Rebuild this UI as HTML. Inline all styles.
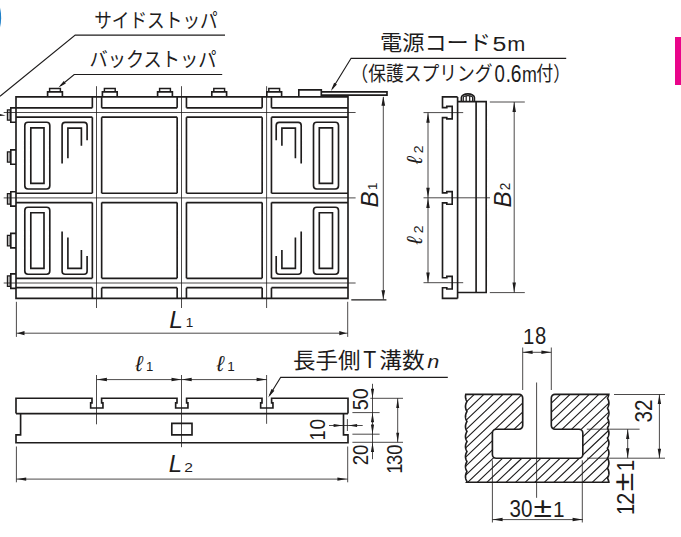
<!DOCTYPE html>
<html lang="ja">
<head>
<meta charset="utf-8">
<title>T溝付き電磁チャック 外形寸法図</title>
<style>
html,body{margin:0;padding:0;background:#fff;}
body{width:681px;height:537px;overflow:hidden;font-family:"Liberation Sans",sans-serif;}
svg{display:block;}
text{font-family:"Liberation Sans",sans-serif;fill:#1e1c1c;}
text.jp{font-family:"Liberation Sans","Noto Sans CJK JP",sans-serif;fill:#1e1c1c;}
text.sl{font-family:"Liberation Sans","DejaVu Sans",sans-serif;font-style:italic;fill:#1e1c1c;}
.k{fill:none;stroke:#1e1c1c;stroke-width:1.65;stroke-linejoin:miter;stroke-linecap:butt;}
.n{fill:none;stroke:#1e1c1c;stroke-width:0.8;}
.m{fill:none;stroke:#1e1c1c;stroke-width:1.15;}
.k2{fill:none;stroke:#1e1c1c;stroke-width:1.2;}
.h{fill:none;stroke:#1e1c1c;stroke-width:1.1;}
.a{fill:#1e1c1c;stroke:none;}
</style>
</head>
<body>
<svg width="681" height="537" viewBox="0 0 681 537">
<defs><clipPath id="sec"><path d="M465.79 394.3H519.1A3.6 3.6 0 0 1 522.7 397.9V425.6A3.6 3.6 0 0 1 519.1 429.2H496.2A3.8 3.8 0 0 0 492.4 433V454.4A3.8 3.8 0 0 0 496.2 458.2H579A3.8 3.8 0 0 0 582.8 454.4V433A3.8 3.8 0 0 0 579 429.2H554.9A3.6 3.6 0 0 1 551.3 425.6V397.9A3.6 3.6 0 0 1 554.9 394.3H608.81L608.73 394.8L608.61 395.3L608.46 395.81L608.28 396.31L608.07 396.81L607.83 397.31L607.57 397.82L607.53 398.32L607.8 398.82L608.04 399.32L608.26 399.83L608.44 400.33L608.59 400.83L608.71 401.33L608.8 401.83L608.87 402.34L608.9 402.84L608.9 403.34L608.87 403.84L608.81 404.35L608.72 404.85L608.6 405.35L608.45 405.85L608.26 406.35L608.05 406.86L607.81 407.36L607.54 407.86L607.55 408.36L607.82 408.87L608.06 409.37L608.27 409.87L608.45 410.37L608.6 410.88L608.72 411.38L608.81 411.88L608.87 412.38L608.9 412.88L608.9 413.39L608.86 413.89L608.8 414.39L608.71 414.89L608.58 415.4L608.43 415.9L608.25 416.4L608.03 416.9L607.79 417.41L607.51 417.91L607.58 418.41L607.85 418.91L608.08 419.41L608.29 419.92L608.47 420.42L608.62 420.92L608.73 421.42L608.82 421.93L608.87 422.43L608.9 422.93L608.89 423.43L608.86 423.93L608.79 424.44L608.7 424.94L608.57 425.44L608.41 425.94L608.23 426.45L608.01 426.95L607.76 427.45L607.49 427.95L607.61 428.46L607.87 428.96L608.11 429.46L608.31 429.96L608.48 430.46L608.63 430.97L608.74 431.47L608.82 431.97L608.88 432.47L608.9 432.98L608.89 433.48L608.85 433.98L608.79 434.48L608.69 434.99L608.56 435.49L608.4 435.99L608.21 436.49L607.99 436.99L607.74 437.5L607.46 438L607.63 438.5L607.89 439L608.12 439.51L608.33 440.01L608.5 440.51L608.64 441.01L608.75 441.51L608.83 442.02L608.88 442.52L608.9 443.02L608.89 443.52L608.85 444.03L608.78 444.53L608.68 445.03L608.54 445.53L608.38 446.04L608.19 446.54L607.97 447.04L607.72 447.54L607.43 448.04L607.66 448.55L607.92 449.05L608.14 449.55L608.34 450.05L608.51 450.56L608.65 451.06L608.76 451.56L608.84 452.06L608.88 452.57L608.9 453.07L608.89 453.57L608.84 454.07L608.77 454.57L608.67 455.08L608.53 455.58L608.37 456.08L608.17 456.58L607.95 457.09L607.69 457.59L607.41 458.09L607.68 458.59L607.94 459.09L608.16 459.6L608.36 460.1L608.53 460.6L608.66 461.1L608.77 461.61L608.84 462.11L608.89 462.61L608.9 463.11L608.88 463.62L608.84 464.12L608.76 464.62L608.65 465.12L608.52 465.62L608.35 466.13L608.15 466.63L607.92 467.13L607.67 467.63L607.42 468.14L607.71 468.64L607.96 469.14L608.18 469.64L608.38 470.15L608.54 470.65L608.67 471.15L608.77 471.65L608.85 472.15L608.89 472.66L608.9 473.16L608.88 473.66L608.83 474.16L608.75 474.67L608.64 475.17L608.5 475.67L608.33 476.17L608.13 476.67L607.9 477.18L607.64 477.68L607.45 478.18L607.73 478.68L607.98 479.19L608.2 479.69L608.39 480.19L608.55 480.69L608.68 481.2L608.78 481.7L608.85 482.2H466.61L466.88 481.7L466.82 481.2L466.55 480.69L466.32 480.19L466.11 479.69L465.93 479.19L465.79 478.68L465.67 478.18L465.58 477.68L465.53 477.18L465.5 476.67L465.51 476.17L465.54 475.67L465.61 475.17L465.7 474.67L465.83 474.16L465.98 473.66L466.17 473.16L466.39 472.66L466.63 472.15L466.91 471.65L466.8 471.15L466.53 470.65L466.3 470.15L466.09 469.64L465.92 469.14L465.77 468.64L465.66 468.14L465.58 467.63L465.52 467.13L465.5 466.63L465.51 466.13L465.55 465.62L465.61 465.12L465.71 464.62L465.84 464.12L466 463.62L466.19 463.11L466.41 462.61L466.66 462.11L466.94 461.61L466.77 461.1L466.51 460.6L466.28 460.1L466.08 459.6L465.9 459.09L465.76 458.59L465.65 458.09L465.57 457.59L465.52 457.09L465.5 456.58L465.51 456.08L465.55 455.58L465.62 455.08L465.72 454.57L465.85 454.07L466.02 453.57L466.21 453.07L466.43 452.57L466.68 452.06L466.96 451.56L466.75 451.06L466.49 450.56L466.26 450.05L466.06 449.55L465.89 449.05L465.75 448.55L465.64 448.04L465.57 447.54L465.52 447.04L465.5 446.54L465.51 446.04L465.56 445.53L465.63 445.03L465.73 444.53L465.87 444.03L466.03 443.52L466.23 443.02L466.45 442.52L466.71 442.02L466.99 441.51L466.72 441.01L466.46 440.51L466.24 440.01L466.04 439.51L465.88 439L465.74 438.5L465.63 438L465.56 437.5L465.51 436.99L465.5 436.49L465.52 435.99L465.56 435.49L465.64 434.99L465.74 434.48L465.88 433.98L466.05 433.48L466.25 432.98L466.47 432.47L466.73 431.97L466.98 431.47L466.7 430.97L466.44 430.46L466.22 429.96L466.03 429.46L465.86 428.96L465.73 428.46L465.63 427.95L465.55 427.45L465.51 426.95L465.5 426.45L465.52 425.94L465.57 425.44L465.65 424.94L465.76 424.44L465.89 423.93L466.06 423.43L466.26 422.93L466.49 422.43L466.76 421.93L466.95 421.42L466.67 420.92L466.42 420.42L466.2 419.92L466.01 419.41L465.85 418.91L465.72 418.41L465.62 417.91L465.55 417.41L465.51 416.9L465.5 416.4L465.52 415.9L465.57 415.4L465.65 414.89L465.77 414.39L465.91 413.89L466.08 413.39L466.28 412.88L466.52 412.38L466.78 411.88L466.93 411.38L466.65 410.88L466.4 410.37L466.18 409.87L465.99 409.37L465.84 408.87L465.71 408.36L465.61 407.86L465.54 407.36L465.51 406.86L465.5 406.35L465.53 405.85L465.58 405.35L465.66 404.85L465.78 404.35L465.92 403.84L466.1 403.34L466.3 402.84L466.54 402.34L466.81 401.83L466.9 401.33L466.62 400.83L466.38 400.33L466.16 399.83L465.98 399.32L465.82 398.82L465.7 398.32L465.6 397.82L465.54 397.31L465.51 396.81L465.5 396.31L465.53 395.81L465.59 395.3L465.67 394.8L465.79 394.3Z"/></clipPath></defs>
<rect width="681" height="537" fill="#fff"/>
<!-- page decorations -->
<path d="M0 7.5Q2.3 17.5 0 27.5Z" fill="#1f80c8"/>
<rect x="675" y="37" width="6" height="48" fill="#e9058a"/>
<!-- section hatching -->
<g clip-path="url(#sec)"><path class="h" d="M320.98 485.2L420.04 391.3M330.56 485.2L429.62 391.3M340.14 485.2L439.2 391.3M349.72 485.2L448.78 391.3M359.3 485.2L458.36 391.3M368.88 485.2L467.94 391.3M378.46 485.2L477.52 391.3M388.04 485.2L487.1 391.3M397.62 485.2L496.68 391.3M407.2 485.2L506.26 391.3M416.78 485.2L515.84 391.3M426.36 485.2L525.42 391.3M435.94 485.2L535 391.3M445.52 485.2L544.58 391.3M455.1 485.2L554.16 391.3M464.68 485.2L563.74 391.3M474.26 485.2L573.32 391.3M483.84 485.2L582.9 391.3M493.42 485.2L592.48 391.3M503 485.2L602.06 391.3M512.58 485.2L611.64 391.3M522.16 485.2L621.22 391.3M531.74 485.2L630.8 391.3M541.32 485.2L640.38 391.3M550.9 485.2L649.96 391.3M560.48 485.2L659.54 391.3M570.06 485.2L669.12 391.3M579.64 485.2L678.7 391.3M589.22 485.2L688.28 391.3M598.8 485.2L697.86 391.3M608.38 485.2L707.44 391.3"/></g>
<path class="k" d="M465.79 394.3H519.1A3.6 3.6 0 0 1 522.7 397.9V425.6A3.6 3.6 0 0 1 519.1 429.2H496.2A3.8 3.8 0 0 0 492.4 433V454.4A3.8 3.8 0 0 0 496.2 458.2H579A3.8 3.8 0 0 0 582.8 454.4V433A3.8 3.8 0 0 0 579 429.2H554.9A3.6 3.6 0 0 1 551.3 425.6V397.9A3.6 3.6 0 0 1 554.9 394.3H608.81L608.73 394.8L608.61 395.3L608.46 395.81L608.28 396.31L608.07 396.81L607.83 397.31L607.57 397.82L607.53 398.32L607.8 398.82L608.04 399.32L608.26 399.83L608.44 400.33L608.59 400.83L608.71 401.33L608.8 401.83L608.87 402.34L608.9 402.84L608.9 403.34L608.87 403.84L608.81 404.35L608.72 404.85L608.6 405.35L608.45 405.85L608.26 406.35L608.05 406.86L607.81 407.36L607.54 407.86L607.55 408.36L607.82 408.87L608.06 409.37L608.27 409.87L608.45 410.37L608.6 410.88L608.72 411.38L608.81 411.88L608.87 412.38L608.9 412.88L608.9 413.39L608.86 413.89L608.8 414.39L608.71 414.89L608.58 415.4L608.43 415.9L608.25 416.4L608.03 416.9L607.79 417.41L607.51 417.91L607.58 418.41L607.85 418.91L608.08 419.41L608.29 419.92L608.47 420.42L608.62 420.92L608.73 421.42L608.82 421.93L608.87 422.43L608.9 422.93L608.89 423.43L608.86 423.93L608.79 424.44L608.7 424.94L608.57 425.44L608.41 425.94L608.23 426.45L608.01 426.95L607.76 427.45L607.49 427.95L607.61 428.46L607.87 428.96L608.11 429.46L608.31 429.96L608.48 430.46L608.63 430.97L608.74 431.47L608.82 431.97L608.88 432.47L608.9 432.98L608.89 433.48L608.85 433.98L608.79 434.48L608.69 434.99L608.56 435.49L608.4 435.99L608.21 436.49L607.99 436.99L607.74 437.5L607.46 438L607.63 438.5L607.89 439L608.12 439.51L608.33 440.01L608.5 440.51L608.64 441.01L608.75 441.51L608.83 442.02L608.88 442.52L608.9 443.02L608.89 443.52L608.85 444.03L608.78 444.53L608.68 445.03L608.54 445.53L608.38 446.04L608.19 446.54L607.97 447.04L607.72 447.54L607.43 448.04L607.66 448.55L607.92 449.05L608.14 449.55L608.34 450.05L608.51 450.56L608.65 451.06L608.76 451.56L608.84 452.06L608.88 452.57L608.9 453.07L608.89 453.57L608.84 454.07L608.77 454.57L608.67 455.08L608.53 455.58L608.37 456.08L608.17 456.58L607.95 457.09L607.69 457.59L607.41 458.09L607.68 458.59L607.94 459.09L608.16 459.6L608.36 460.1L608.53 460.6L608.66 461.1L608.77 461.61L608.84 462.11L608.89 462.61L608.9 463.11L608.88 463.62L608.84 464.12L608.76 464.62L608.65 465.12L608.52 465.62L608.35 466.13L608.15 466.63L607.92 467.13L607.67 467.63L607.42 468.14L607.71 468.64L607.96 469.14L608.18 469.64L608.38 470.15L608.54 470.65L608.67 471.15L608.77 471.65L608.85 472.15L608.89 472.66L608.9 473.16L608.88 473.66L608.83 474.16L608.75 474.67L608.64 475.17L608.5 475.67L608.33 476.17L608.13 476.67L607.9 477.18L607.64 477.68L607.45 478.18L607.73 478.68L607.98 479.19L608.2 479.69L608.39 480.19L608.55 480.69L608.68 481.2L608.78 481.7L608.85 482.2H466.61L466.88 481.7L466.82 481.2L466.55 480.69L466.32 480.19L466.11 479.69L465.93 479.19L465.79 478.68L465.67 478.18L465.58 477.68L465.53 477.18L465.5 476.67L465.51 476.17L465.54 475.67L465.61 475.17L465.7 474.67L465.83 474.16L465.98 473.66L466.17 473.16L466.39 472.66L466.63 472.15L466.91 471.65L466.8 471.15L466.53 470.65L466.3 470.15L466.09 469.64L465.92 469.14L465.77 468.64L465.66 468.14L465.58 467.63L465.52 467.13L465.5 466.63L465.51 466.13L465.55 465.62L465.61 465.12L465.71 464.62L465.84 464.12L466 463.62L466.19 463.11L466.41 462.61L466.66 462.11L466.94 461.61L466.77 461.1L466.51 460.6L466.28 460.1L466.08 459.6L465.9 459.09L465.76 458.59L465.65 458.09L465.57 457.59L465.52 457.09L465.5 456.58L465.51 456.08L465.55 455.58L465.62 455.08L465.72 454.57L465.85 454.07L466.02 453.57L466.21 453.07L466.43 452.57L466.68 452.06L466.96 451.56L466.75 451.06L466.49 450.56L466.26 450.05L466.06 449.55L465.89 449.05L465.75 448.55L465.64 448.04L465.57 447.54L465.52 447.04L465.5 446.54L465.51 446.04L465.56 445.53L465.63 445.03L465.73 444.53L465.87 444.03L466.03 443.52L466.23 443.02L466.45 442.52L466.71 442.02L466.99 441.51L466.72 441.01L466.46 440.51L466.24 440.01L466.04 439.51L465.88 439L465.74 438.5L465.63 438L465.56 437.5L465.51 436.99L465.5 436.49L465.52 435.99L465.56 435.49L465.64 434.99L465.74 434.48L465.88 433.98L466.05 433.48L466.25 432.98L466.47 432.47L466.73 431.97L466.98 431.47L466.7 430.97L466.44 430.46L466.22 429.96L466.03 429.46L465.86 428.96L465.73 428.46L465.63 427.95L465.55 427.45L465.51 426.95L465.5 426.45L465.52 425.94L465.57 425.44L465.65 424.94L465.76 424.44L465.89 423.93L466.06 423.43L466.26 422.93L466.49 422.43L466.76 421.93L466.95 421.42L466.67 420.92L466.42 420.42L466.2 419.92L466.01 419.41L465.85 418.91L465.72 418.41L465.62 417.91L465.55 417.41L465.51 416.9L465.5 416.4L465.52 415.9L465.57 415.4L465.65 414.89L465.77 414.39L465.91 413.89L466.08 413.39L466.28 412.88L466.52 412.38L466.78 411.88L466.93 411.38L466.65 410.88L466.4 410.37L466.18 409.87L465.99 409.37L465.84 408.87L465.71 408.36L465.61 407.86L465.54 407.36L465.51 406.86L465.5 406.35L465.53 405.85L465.58 405.35L465.66 404.85L465.78 404.35L465.92 403.84L466.1 403.34L466.3 402.84L466.54 402.34L466.81 401.83L466.9 401.33L466.62 400.83L466.38 400.33L466.16 399.83L465.98 399.32L465.82 398.82L465.7 398.32L465.6 397.82L465.54 397.31L465.51 396.81L465.5 396.31L465.53 395.81L465.59 395.3L465.67 394.8L465.79 394.3Z"/>
<!-- outlines -->
<path class="k" d="M16 96.9 L348 96.9 L348 298.4 L16 298.4ZM16 107.85 L92.35 107.85M92.35 96.9 L92.35 107.85M16 117.15 L92.35 117.15M16 193.25 L92.35 193.25M92.35 117.15 L92.35 193.25M16 202.55 L92.35 202.55M16 278.35 L92.35 278.35M92.35 202.55 L92.35 278.35M16 287.65 L92.35 287.65M92.35 287.65 L92.35 298.4M101.65 107.85 L177.15 107.85M101.65 96.9 L101.65 107.85M177.15 96.9 L177.15 107.85M101.65 117.15 L177.15 117.15M101.65 193.25 L177.15 193.25M101.65 117.15 L101.65 193.25M177.15 117.15 L177.15 193.25M101.65 202.55 L177.15 202.55M101.65 278.35 L177.15 278.35M101.65 202.55 L101.65 278.35M177.15 202.55 L177.15 278.35M101.65 287.65 L177.15 287.65M101.65 287.65 L101.65 298.4M177.15 287.65 L177.15 298.4M186.45 107.85 L262.15 107.85M186.45 96.9 L186.45 107.85M262.15 96.9 L262.15 107.85M186.45 117.15 L262.15 117.15M186.45 193.25 L262.15 193.25M186.45 117.15 L186.45 193.25M262.15 117.15 L262.15 193.25M186.45 202.55 L262.15 202.55M186.45 278.35 L262.15 278.35M186.45 202.55 L186.45 278.35M262.15 202.55 L262.15 278.35M186.45 287.65 L262.15 287.65M186.45 287.65 L186.45 298.4M262.15 287.65 L262.15 298.4M271.45 107.85 L348 107.85M271.45 96.9 L271.45 107.85M271.45 117.15 L348 117.15M271.45 193.25 L348 193.25M271.45 117.15 L271.45 193.25M271.45 202.55 L348 202.55M271.45 278.35 L348 278.35M271.45 202.55 L271.45 278.35M271.45 287.65 L348 287.65M271.45 287.65 L271.45 298.4M28 122.2H46.6A3.2 3.2 0 0 1 49.8 125.4V185.8A3.2 3.2 0 0 1 46.6 189H28A3.2 3.2 0 0 1 24.8 185.8V125.4A3.2 3.2 0 0 1 28 122.2ZM30.8 127.8 L44 127.8 L44 183.3 L30.8 183.3ZM316.7 122.2H335.3A3.2 3.2 0 0 1 338.5 125.4V185.8A3.2 3.2 0 0 1 335.3 189H316.7A3.2 3.2 0 0 1 313.5 185.8V125.4A3.2 3.2 0 0 1 316.7 122.2ZM319.3 127.8 L332.5 127.8 L332.5 183.3 L319.3 183.3ZM28 207.2H46.6A3.2 3.2 0 0 1 49.8 210.4V271A3.2 3.2 0 0 1 46.6 274.2H28A3.2 3.2 0 0 1 24.8 271V210.4A3.2 3.2 0 0 1 28 207.2ZM30.8 212.7 L44 212.7 L44 268.4 L30.8 268.4ZM316.7 207.2H335.3A3.2 3.2 0 0 1 338.5 210.4V271A3.2 3.2 0 0 1 335.3 274.2H316.7A3.2 3.2 0 0 1 313.5 271V210.4A3.2 3.2 0 0 1 316.7 207.2ZM319.3 212.7 L332.5 212.7 L332.5 268.4 L319.3 268.4ZM62.1 163.5V125.4A3 3 0 0 1 65.1 122.4H84.1A3 3 0 0 1 87.1 125.4V140.2M67.9 158.2V128.1H81.4V145.8M62.1 231.6V271.2A3 3 0 0 0 65.1 274.2H84.1A3 3 0 0 0 87.1 271.2V256M67.9 237.6V268.4H81.4V250M301.2 163.5V125.4A3 3 0 0 0 298.2 122.4H279.2A3 3 0 0 0 276.2 125.4V140.2M295.4 158.2V128.1H281.9V145.8M301.2 231.6V271.2A3 3 0 0 1 298.2 274.2H279.2A3 3 0 0 1 276.2 271.2V256M295.4 237.6V268.4H281.9V250M47.6 96.9 L47.6 91.8 L62.4 91.8 L62.4 96.9M102.4 96.9 L102.4 91.8 L117.2 91.8 L117.2 96.9M157.6 96.9 L157.6 91.8 L172.4 91.8 L172.4 96.9M211.8 96.9 L211.8 91.8 L226.6 91.8 L226.6 96.9M266.8 96.9 L266.8 91.8 L281.6 91.8 L281.6 96.9M298.8 89.9 L321.3 89.9 L321.3 96.9 L298.8 96.9ZM321.3 91.9 L387 91.9 L387 95.1 L321.3 95.1ZM16 107.8 L10.8 107.8 L10.8 122.2 L16 122.2M16 149.8 L10.8 149.8 L10.8 164.2 L16 164.2M16 191.7 L10.8 191.7 L10.8 206.1 L16 206.1M16 233.4 L10.8 233.4 L10.8 247.8 L16 247.8M16 273.9 L10.8 273.9 L10.8 288.3 L16 288.3M457.6 96.9 L442.5 96.9 L442.5 107.6 L446.8 107.6 L446.8 106.3 L452.2 106.3 L452.2 118.9 L446.8 118.9 L446.8 117.6 L442.5 117.6 L442.5 192.9 L446.8 192.9 L446.8 191.6 L452.2 191.6 L452.2 204.2 L446.8 204.2 L446.8 202.9 L442.5 202.9 L442.5 277.7 L446.8 277.7 L446.8 276.4 L452.2 276.4 L452.2 289 L446.8 289 L446.8 287.7 L442.5 287.7 L442.5 298.4 L457.6 298.4M457.6 96.9 L457.6 298.4M457.6 101.6 L486.2 101.6 L486.2 292.5 L457.6 292.5M476.1 101.6 L476.1 292.5M461.4 101.6V97.4A6.5 3.5 0 0 1 474.4 97.4V101.6M16 413.6 L16 398.2 L92 398.2 L92 402.9 L90.65 402.9 L90.65 408 L102.95 408 L102.95 402.9 L101.6 402.9 L101.6 398.2 L177 398.2 L177 402.9 L175.65 402.9 L175.65 408 L187.95 408 L187.95 402.9 L186.6 402.9 L186.6 398.2 L262 398.2 L262 402.9 L260.65 402.9 L260.65 408 L272.95 408 L272.95 402.9 L271.6 402.9 L271.6 398.2 L348 398.2 L348 413.6M16 413.6 L348 413.6M20.6 413.6 L20.6 434.8 L16 434.8 L16 442.7 L348 442.7 L348 434.8 L343.5 434.8 L343.5 413.6M171.8 423.4 L192 423.4 L192 434.8 L171.8 434.8Z"/>
<path class="k2" d="M10.8 109.8 L7.4 109.8 L7.4 120.2 L10.8 120.2M10.8 151.8 L7.4 151.8 L7.4 162.2 L10.8 162.2M10.8 193.7 L7.4 193.7 L7.4 204.1 L10.8 204.1M10.8 235.4 L7.4 235.4 L7.4 245.8 L10.8 245.8M10.8 275.9 L7.4 275.9 L7.4 286.3 L10.8 286.3M463.3 101.6V97.8A4.65 2.1 0 0 1 472.6 97.8V101.6M466.2 96.2 L466.2 101.6M469.7 96.2 L469.7 101.6"/>
<path class="k2" style="stroke-width:1.45" d="M49.6 91.2 L49.6 88.5 L60.4 88.5 L60.4 91.2M104.4 91.2 L104.4 88.5 L115.2 88.5 L115.2 91.2M159.6 91.2 L159.6 88.5 L170.4 88.5 L170.4 91.2M213.8 91.2 L213.8 88.5 L224.6 88.5 L224.6 91.2M268.8 91.2 L268.8 88.5 L279.6 88.5 L279.6 91.2"/>
<!-- thin lines -->
<path class="n" d="M96.5 86.2 L96.5 308M181.5 86.2 L181.5 308M266.6 86.2 L266.6 308M3.7 112.5 L355.6 112.5M3.7 197.9 L355.6 197.9M3.7 283 L355.6 283M9.1 109.8V120.2M9.1 151.8V162.2M9.1 193.7V204.1M9.1 235.4V245.8M9.1 275.9V286.3M383.3 97 L383.3 299.5M16.5 333.2 L347.7 333.2M16.4 301.8 L16.4 336.9M347.7 301.8 L347.7 336.9M423.5 112.6 L463.2 112.6M423.5 197.8 L490 197.8M423.5 282.7 L463.2 282.7M428 112.6 L428 282.7M489.8 102 L524.8 102M489.8 292.6 L524.8 292.6M514.2 102 L514.2 292.6M96.5 375 L96.5 424.3M181.5 375 L181.5 447.2M266.6 375 L266.6 423.8M96.7 379.6 L266.8 379.6M16.4 479.1 L347.7 479.1M16.4 446.5 L16.4 482.3M347.7 446.5 L347.7 482.3M370.3 398.3 L403 398.3M352.4 412.6 L379.6 412.6M352.4 434.2 L379.6 434.2M352.4 442.3 L403 442.3M372.5 383.8 L372.5 459.2M397.7 398.3 L397.7 442.3M329 425.5 L362.7 425.5M347.4 419.1 L347.4 431M536.6 382.5 L536.6 497.8M522.7 347.5 L522.7 390M551.3 347.5 L551.3 390M522.7 352.3 L551.3 352.3M492.4 460.3 L492.4 522.5M582.3 460.3 L582.3 522.5M492.4 519.6 L582.8 519.6M614 394.5 L665 394.5M587 458.2 L665 458.2M659.4 394.5 L659.4 458.2M586.8 429.2 L639.6 429.2M627.7 429.2 L627.7 458.2"/>
<path class="m" d="M225 35.1 L75.2 35.1 L0 96.3M222.2 74.45 L74.2 74.45 L60.5 85.8M566.2 58.3 L351.1 58.3 L332.2 89M351.3 299.8 L386.4 299.8M447.8 377.3 L280.7 377.3 L269.6 395.3"/>
<!-- arrow heads -->
<path class="a" d="M0 114L5.7 115.5L0 115.9ZM58.4 87.5L63.78 80.98L65.82 83.45ZM330.9 91.1L334.11 82.74L336.92 84.47ZM383.3 96.2L385.15 105.7L381.45 105.7ZM383.3 299.2L381.45 290.2L385.15 290.2ZM17.2 333.2L24.5 331.1L24.5 335.3ZM346.6 333.2L339.3 335.3L339.3 331.1ZM428 112.7L429.75 122.7L426.25 122.7ZM428 197.7L426.25 187.7L429.75 187.7ZM428 197.9L429.75 207.9L426.25 207.9ZM428 282.6L426.25 272.6L429.75 272.6ZM514.2 102.1L515.95 112.1L512.45 112.1ZM514.2 292.5L512.45 282.5L515.95 282.5ZM96.9 379.6L106.9 377.85L106.9 381.35ZM181.5 379.6L171.5 381.35L171.5 377.85ZM181.7 379.6L191.7 377.85L191.7 381.35ZM266.6 379.6L256.6 381.35L256.6 377.85ZM268.3 397.4L271.43 388.99L274.41 390.83ZM17 479.1L26.2 477.4L26.2 480.8ZM346.6 479.1L337.4 480.8L337.4 477.4ZM372.5 398.2L370.9 388.7L374.1 388.7ZM372.5 412.7L374.1 422.2L370.9 422.2ZM372.5 434.1L370.9 424.6L374.1 424.6ZM372.5 442.4L374.1 451.9L370.9 451.9ZM397.7 398.4L399.2 407.9L396.2 407.9ZM397.7 442.2L396.2 432.7L399.2 432.7ZM342.9 425.5L333.6 427L333.6 424ZM348.3 425.5L357.1 424L357.1 427ZM522.9 352.3L532.6 350.55L532.6 354.05ZM551.1 352.3L541.4 354.05L541.4 350.55ZM492.6 519.6L502.6 517.85L502.6 521.35ZM582.6 519.6L572.6 521.35L572.6 517.85ZM659.4 394.6L661.1 403.9L657.7 403.9ZM659.4 458.1L657.7 448.8L661.1 448.8ZM627.7 429.3L629.35 439.1L626.05 439.1ZM627.7 458.1L626.05 448.3L629.35 448.3Z"/>
<!-- Japanese labels -->
<text class="jp" x="94.2" y="28" font-size="20" textLength="123.5" lengthAdjust="spacingAndGlyphs">サイドストッパ</text>
<text class="jp" x="89.5" y="67" font-size="20" textLength="127" lengthAdjust="spacingAndGlyphs">バックストッパ</text>
<text class="jp" x="380" y="50.2" font-size="21" textLength="111" lengthAdjust="spacingAndGlyphs">電源コード</text>
<text class="jp" x="350.5" y="80.5" font-size="20" textLength="142" lengthAdjust="spacingAndGlyphs">（保護スプリング</text>
<text class="jp" x="536.3" y="80.5" font-size="20" textLength="34" lengthAdjust="spacingAndGlyphs">付）</text>
<text class="jp" x="293" y="367.8" font-size="21.5" textLength="67.5" lengthAdjust="spacingAndGlyphs">長手側</text>
<text class="jp" x="379.3" y="367.8" font-size="21.5" textLength="45.5" lengthAdjust="spacingAndGlyphs">溝数</text>
<!-- script l, digit 1, plus-minus -->
<text class="sl" x="135.5" y="370.9" style="font-size:22px;">ℓ</text>
<text class="sl" x="216.7" y="370.9" style="font-size:22px;">ℓ</text>
<text class="sl" transform="translate(422.4 164) rotate(-90)" style="font-size:22px;">ℓ</text>
<text class="sl" transform="translate(422.4 244.3) rotate(-90)" style="font-size:22px;">ℓ</text>
<text transform="translate(185.7 326.75) scale(1.07 1)" style="font-size:12.7px;">1</text>
<text transform="translate(145.9 371.45) scale(1.06 1)" style="font-size:12.43px;">1</text>
<text transform="translate(227.3 371.45) scale(1.09 1)" style="font-size:12.43px;">1</text>
<text transform="translate(376.75 190) rotate(-90) scale(1.006 1)" style="font-size:13.13px;">1</text>
<text transform="translate(523.1 343.65) scale(0.91 1)" style="font-size:22.35px;">1</text>
<text transform="translate(553.1 516.95) scale(0.917 1)" style="font-size:22.63px;">1</text>
<text transform="translate(633.65 514.97) rotate(-90) scale(0.874 1)" style="font-size:23.3px;">1</text>
<text transform="translate(633.65 471.3) rotate(-90) scale(0.89 1)" style="font-size:23.3px;">1</text>
<text transform="translate(402.15 473.7) rotate(-90) scale(0.82 1)" style="font-size:22.07px;">1</text>
<text transform="translate(324.55 440.6) rotate(-90) scale(0.816 1)" style="font-size:22.2px;">1</text>
<text transform="translate(505.85 81.9) scale(0.809 1)" style="font-size:23.02px;">.</text>
<text transform="translate(533.6 516.6) scale(1.2 1)" style="font-size:28px;">±</text>
<text transform="translate(633.2 491.3) rotate(-90) scale(1.2 1)" style="font-size:28px;">±</text>
<!-- latin text -->
<text transform="translate(492.55 51.26) scale(1.286 1)" style="font-size:19.35px;">5</text>
<text transform="translate(507.31 51.25) scale(1.112 1)" style="font-size:19.51px;">m</text>
<text transform="translate(494.52 81.63) scale(0.809 1)" style="font-size:23.02px;">0</text>
<text transform="translate(510.77 81.63) scale(0.838 1)" style="font-size:23.02px;">6</text>
<text transform="translate(521.97 81.55) scale(0.828 1)" style="font-size:21.56px;">m</text>
<text transform="translate(363.37 368.45) scale(0.901 1)" style="font-size:23.55px;">T</text>
<text transform="translate(427.19 368.45) scale(1.141 1)" style="font-size:18.97px;font-style:italic;">n</text>
<text transform="translate(169.29 327.65) scale(1.057 1)" style="font-size:23.26px;font-style:italic;">L</text>
<text transform="translate(168.81 471.55) scale(1.035 1)" style="font-size:23.11px;font-style:italic;">L</text>
<text transform="translate(184.37 471.55) scale(1.223 1)" style="font-size:12.75px;">2</text>
<text transform="translate(377.65 207.4) rotate(-90) scale(1.030 1)" style="font-size:23.55px;font-style:italic;">B</text>
<text transform="translate(510.65 207.39) rotate(-90) scale(1.023 1)" style="font-size:23.55px;font-style:italic;">B</text>
<text transform="translate(509.95 190.13) rotate(-90) scale(0.950 1)" style="font-size:14.32px;">2</text>
<text transform="translate(422.65 153.16) rotate(-90) scale(1.033 1)" style="font-size:13.61px;">2</text>
<text transform="translate(422.65 233.26) rotate(-90) scale(1.033 1)" style="font-size:13.61px;">2</text>
<text transform="translate(535.07 343.82) scale(0.869 1)" style="font-size:23.3px;">8</text>
<text transform="translate(509.57 517.12) scale(0.872 1)" style="font-size:23.59px;">30</text>
<text transform="translate(651.91 422.44) rotate(-90) scale(0.857 1)" style="font-size:24.15px;">32</text>
<text transform="translate(633.75 504.74) rotate(-90) scale(0.898 1)" style="font-size:24.2px;">2</text>
<text transform="translate(367.53 410.24) rotate(-90) scale(0.885 1)" style="font-size:22.32px;">50</text>
<text transform="translate(367.53 465.28) rotate(-90) scale(0.832 1)" style="font-size:22.32px;">20</text>
<text transform="translate(402.03 465.05) rotate(-90) scale(0.812 1)" style="font-size:22.6px;">30</text>
<text transform="translate(324.53 429.39) rotate(-90) scale(0.832 1)" style="font-size:22.88px;">0</text>
</svg>
</body>
</html>
